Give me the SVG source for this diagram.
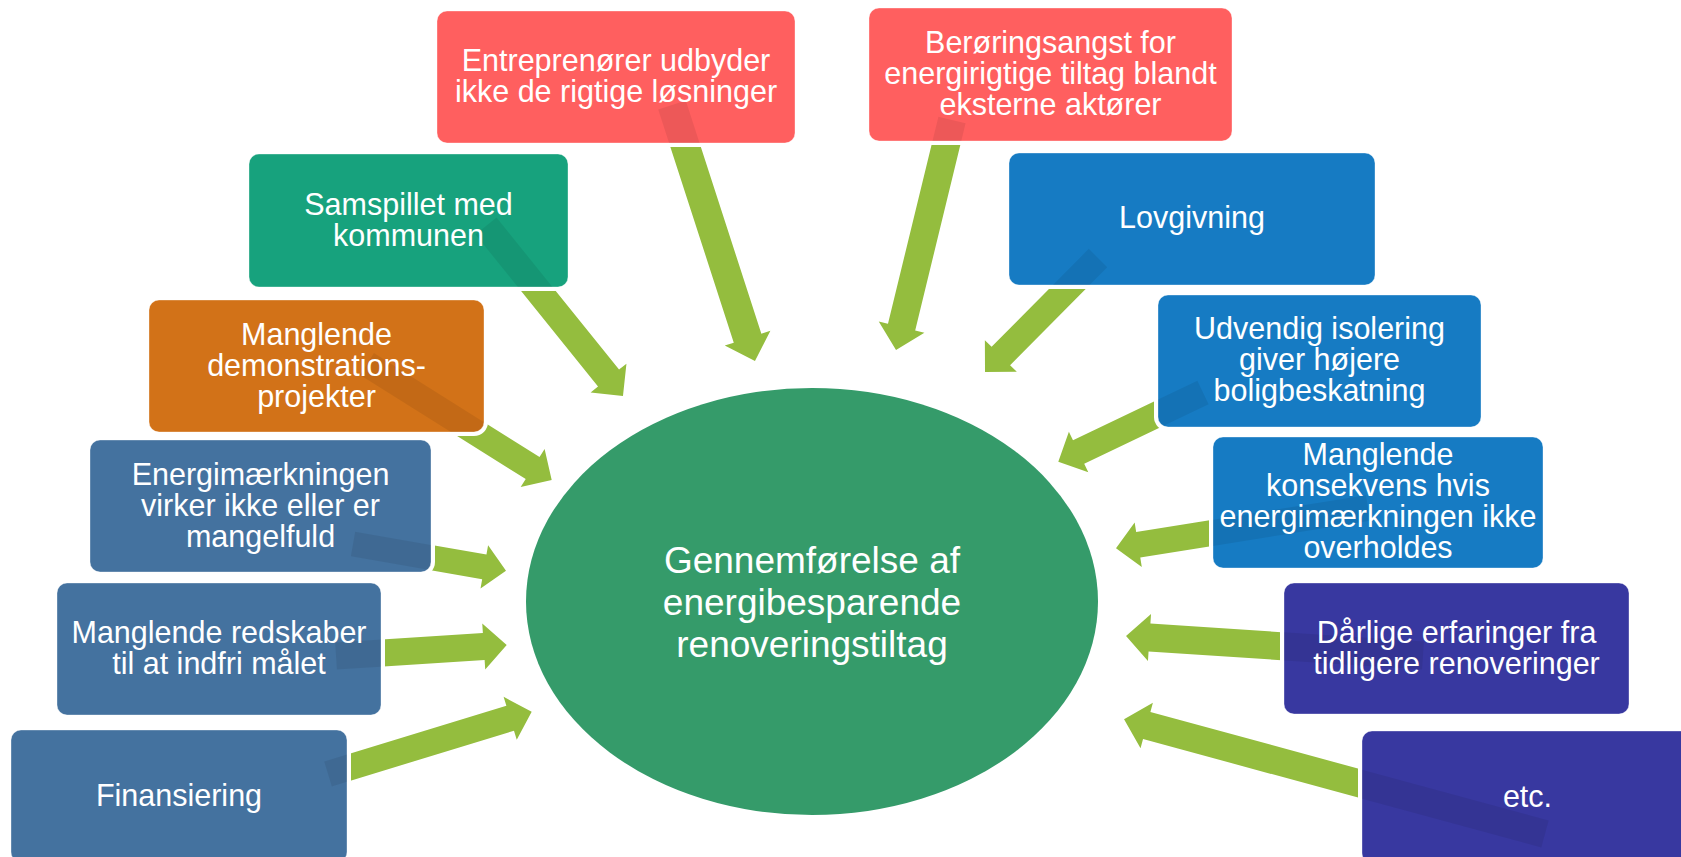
<svg xmlns="http://www.w3.org/2000/svg" xmlns:xlink="http://www.w3.org/1999/xlink" width="1681" height="857" viewBox="0 0 1681 857">
<style>
.arrow{fill:#94BD3E}
.shade{fill:#000;fill-opacity:0.07}
.halo{fill:#fff}
.box{stroke:#fff;stroke-opacity:0.35;stroke-width:1}
.t{font-family:"Liberation Sans",Arial,sans-serif;font-size:30.5px;fill:#fff;text-anchor:middle}
.tc{font-family:"Liberation Sans",Arial,sans-serif;font-size:37px;fill:#fff;text-anchor:middle}
.red{fill:#FF5F5F}.teal{fill:#17A27D}.orange{fill:#D27218}.steel{fill:#44729F}.blue{fill:#167BC3}.indigo{fill:#3838A0}
</style>
<defs>
<polygon id="a1" points="0,-14.5 245.1,-14.5 245.1,-24 269.1,0 245.1,24 245.1,14.5 0,14.5" transform="translate(672,105) rotate(72.04)"/>
<polygon id="a2" points="0,-14 213.2,-14 213.2,-23.5 236.7,0 213.2,23.5 213.2,14 0,14" transform="translate(952,120) rotate(103.68)"/>
<polygon id="a3" points="0,-13 138,-13 138,-22.5 160.5,0 138,22.5 138,13 0,13" transform="translate(1098,258) rotate(134.75)"/>
<polygon id="a4" points="0,-13.5 195.3,-13.5 195.3,-23 218.3,0 195.3,23 195.3,13.5 0,13.5" transform="translate(486,226) rotate(51.14)"/>
<polygon id="a5" points="0,-13 195.6,-13 195.6,-22.5 218.1,0 195.6,22.5 195.6,13 0,13" transform="translate(367,364) rotate(32.13)"/>
<polygon id="a6" points="0,-13 137.9,-13 137.9,-22.5 160.4,0 137.9,22.5 137.9,13 0,13" transform="translate(1203,392.5) rotate(154.44)"/>
<polygon id="a7" points="0,-12.5 133.3,-12.5 133.3,-22 155.3,0 133.3,22 133.3,12.5 0,12.5" transform="translate(353,544) rotate(9.9)"/>
<polygon id="a8" points="0,-13 232.7,-13 232.7,-22.5 255.2,0 232.7,22.5 232.7,13 0,13" transform="translate(1368,508) rotate(170.91)"/>
<polygon id="a9" points="0,-13.5 148.05,-13.5 148.05,-23 171.05,0 148.05,23 148.05,13.5 0,13.5" transform="translate(336,656) rotate(-3.69)"/>
<polygon id="a10" points="0,-14 274.1,-14 274.1,-23.5 297.6,0 274.1,23.5 274.1,14 0,14" transform="translate(1423,655.5) rotate(183.76)"/>
<polygon id="a11" points="0,-13 190.5,-13 190.5,-22.5 213,0 190.5,22.5 190.5,13 0,13" transform="translate(328,774) rotate(-17)"/>
<polygon id="a12" points="0,-14 412.8,-14 412.8,-23.5 436.3,0 412.8,23.5 412.8,14 0,14" transform="translate(1545,834) rotate(195.24)"/>
<clipPath id="c1"><rect x="437" y="11" width="358" height="132" rx="10"/></clipPath>
<clipPath id="c2"><rect x="869" y="8" width="363" height="133" rx="10"/></clipPath>
<clipPath id="c3"><rect x="249" y="154" width="319" height="133" rx="10"/></clipPath>
<clipPath id="c4"><rect x="1009" y="153" width="366" height="132" rx="10"/></clipPath>
<clipPath id="c5"><rect x="149" y="300" width="335" height="132" rx="10"/></clipPath>
<clipPath id="c6"><rect x="1158" y="295" width="323" height="132" rx="10"/></clipPath>
<clipPath id="c7"><rect x="90" y="440" width="341" height="132" rx="10"/></clipPath>
<clipPath id="c8"><rect x="1213" y="437" width="330" height="131" rx="10"/></clipPath>
<clipPath id="c9"><rect x="57" y="583" width="324" height="132" rx="10"/></clipPath>
<clipPath id="c10"><rect x="1284" y="583" width="345" height="131" rx="10"/></clipPath>
<clipPath id="c11"><rect x="11" y="730" width="336" height="132" rx="10"/></clipPath>
<clipPath id="c12"><rect x="1362" y="731" width="331" height="132" rx="10"/></clipPath>
</defs>
<rect width="1681" height="857" fill="#fff"/>
<g id="connectors">
<use xlink:href="#a1" href="#a1" class="arrow"/>
<use xlink:href="#a2" href="#a2" class="arrow"/>
<use xlink:href="#a3" href="#a3" class="arrow"/>
<use xlink:href="#a4" href="#a4" class="arrow"/>
<use xlink:href="#a5" href="#a5" class="arrow"/>
<use xlink:href="#a6" href="#a6" class="arrow"/>
<use xlink:href="#a7" href="#a7" class="arrow"/>
<use xlink:href="#a8" href="#a8" class="arrow"/>
<use xlink:href="#a9" href="#a9" class="arrow"/>
<use xlink:href="#a10" href="#a10" class="arrow"/>
<use xlink:href="#a11" href="#a11" class="arrow"/>
<use xlink:href="#a12" href="#a12" class="arrow"/>
</g>
<g id="center">
<ellipse cx="812" cy="601.5" rx="286" ry="213.5" fill="#359B6A"/>
<text class="tc"><tspan x="812" y="573">Gennemførelse af</tspan><tspan x="812" y="615">energibesparende</tspan><tspan x="812" y="657">renoveringstiltag</tspan></text>
</g>
<g id="n1">
<rect class="halo" x="433" y="7" width="366" height="140" rx="14"/>
<rect class="box red" x="437" y="11" width="358" height="132" rx="10"/>
<use xlink:href="#a1" href="#a1" class="shade" clip-path="url(#c1)"/>
<text class="t"><tspan x="616" y="71">Entreprenører udbyder</tspan><tspan x="616" y="102">ikke de rigtige løsninger</tspan></text>
</g>
<g id="n2">
<rect class="halo" x="865" y="4" width="371" height="141" rx="14"/>
<rect class="box red" x="869" y="8" width="363" height="133" rx="10"/>
<use xlink:href="#a2" href="#a2" class="shade" clip-path="url(#c2)"/>
<text class="t"><tspan x="1050.5" y="52.5">Berøringsangst for</tspan><tspan x="1050.5" y="83.5">energirigtige tiltag blandt</tspan><tspan x="1050.5" y="114.5">eksterne aktører</tspan></text>
</g>
<g id="n3">
<rect class="halo" x="245" y="150" width="327" height="141" rx="14"/>
<rect class="box teal" x="249" y="154" width="319" height="133" rx="10"/>
<use xlink:href="#a4" href="#a4" class="shade" clip-path="url(#c3)"/>
<text class="t"><tspan x="408.5" y="214.5">Samspillet med</tspan><tspan x="408.5" y="245.5">kommunen</tspan></text>
</g>
<g id="n4">
<rect class="halo" x="1005" y="149" width="374" height="140" rx="14"/>
<rect class="box blue" x="1009" y="153" width="366" height="132" rx="10"/>
<use xlink:href="#a3" href="#a3" class="shade" clip-path="url(#c4)"/>
<text class="t"><tspan x="1192" y="228">Lovgivning</tspan></text>
</g>
<g id="n5">
<rect class="halo" x="145" y="296" width="343" height="140" rx="14"/>
<rect class="box orange" x="149" y="300" width="335" height="132" rx="10"/>
<use xlink:href="#a5" href="#a5" class="shade" clip-path="url(#c5)"/>
<text class="t"><tspan x="316.5" y="344.5">Manglende</tspan><tspan x="316.5" y="375.5">demonstrations-</tspan><tspan x="316.5" y="406.5">projekter</tspan></text>
</g>
<g id="n6">
<rect class="halo" x="1154" y="291" width="331" height="140" rx="14"/>
<rect class="box blue" x="1158" y="295" width="323" height="132" rx="10"/>
<use xlink:href="#a6" href="#a6" class="shade" clip-path="url(#c6)"/>
<text class="t"><tspan x="1319.5" y="339">Udvendig isolering</tspan><tspan x="1319.5" y="370">giver højere</tspan><tspan x="1319.5" y="401">boligbeskatning</tspan></text>
</g>
<g id="n7">
<rect class="halo" x="86" y="436" width="349" height="140" rx="14"/>
<rect class="box steel" x="90" y="440" width="341" height="132" rx="10"/>
<use xlink:href="#a7" href="#a7" class="shade" clip-path="url(#c7)"/>
<text class="t"><tspan x="260.5" y="484.5">Energimærkningen</tspan><tspan x="260.5" y="515.5">virker ikke eller er</tspan><tspan x="260.5" y="546.5">mangelfuld</tspan></text>
</g>
<g id="n8">
<rect class="halo" x="1209" y="433" width="338" height="139" rx="14"/>
<rect class="box blue" x="1213" y="437" width="330" height="131" rx="10"/>
<use xlink:href="#a8" href="#a8" class="shade" clip-path="url(#c8)"/>
<text class="t"><tspan x="1378" y="465">Manglende</tspan><tspan x="1378" y="496">konsekvens hvis</tspan><tspan x="1378" y="527">energimærkningen ikke</tspan><tspan x="1378" y="558">overholdes</tspan></text>
</g>
<g id="n9">
<rect class="halo" x="53" y="579" width="332" height="140" rx="14"/>
<rect class="box steel" x="57" y="583" width="324" height="132" rx="10"/>
<use xlink:href="#a9" href="#a9" class="shade" clip-path="url(#c9)"/>
<text class="t"><tspan x="219" y="643">Manglende redskaber</tspan><tspan x="219" y="674">til at indfri målet</tspan></text>
</g>
<g id="n10">
<rect class="halo" x="1280" y="579" width="353" height="139" rx="14"/>
<rect class="box indigo" x="1284" y="583" width="345" height="131" rx="10"/>
<use xlink:href="#a10" href="#a10" class="shade" clip-path="url(#c10)"/>
<text class="t"><tspan x="1456.5" y="642.5">Dårlige erfaringer fra</tspan><tspan x="1456.5" y="673.5">tidligere renoveringer</tspan></text>
</g>
<g id="n11">
<rect class="halo" x="7" y="726" width="344" height="140" rx="14"/>
<rect class="box steel" x="11" y="730" width="336" height="132" rx="10"/>
<use xlink:href="#a11" href="#a11" class="shade" clip-path="url(#c11)"/>
<text class="t"><tspan x="179" y="806">Finansiering</tspan></text>
</g>
<g id="n12">
<rect class="halo" x="1358" y="727" width="339" height="140" rx="14"/>
<rect class="box indigo" x="1362" y="731" width="331" height="132" rx="10"/>
<use xlink:href="#a12" href="#a12" class="shade" clip-path="url(#c12)"/>
<text class="t"><tspan x="1527.5" y="806.5">etc.</tspan></text>
</g>
</svg>
